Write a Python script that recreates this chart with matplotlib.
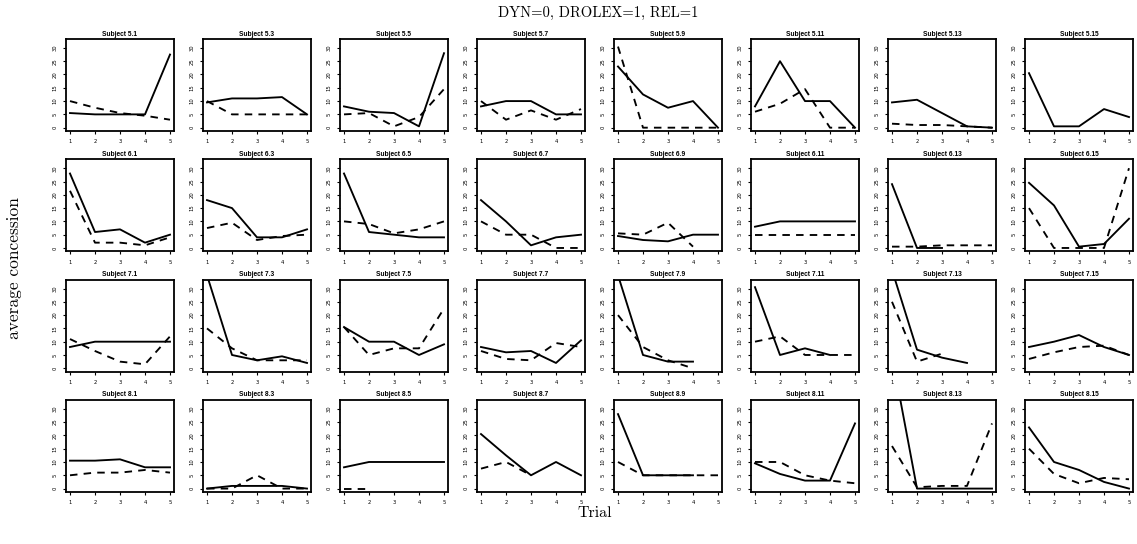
import numpy as np
import matplotlib
matplotlib.use("Agg")
import matplotlib.pyplot as plt

nan = np.nan

# panel names, row by row
subjects = ["5.1", "5.3", "5.5", "5.7", "5.9", "5.11", "5.13", "5.15",
            "6.1", "6.3", "6.5", "6.7", "6.9", "6.11", "6.13", "6.15",
            "7.1", "7.3", "7.5", "7.7", "7.9", "7.11", "7.13", "7.15",
            "8.1", "8.3", "8.5", "8.7", "8.9", "8.11", "8.13", "8.15"]

trials = [1, 2, 3, 4, 5]

# solid line per subject
solid_vals = [
    [5.5, 5, 5, 5, 27.5], [9.5, 11, 11, 11.5, 5], [8, 6, 5.5, 0.5, 28], [8, 10, 10, 5, 5],
    [23, 12.5, 7.5, 10, 0], [8, 25, 10, 10, 0], [9.5, 10.5, 5.5, 0.5, 0], [20.5, 0.5, 0.5, 7, 4],
    [28, 6, 7, 2, 5], [18, 15, 4, 4, 7], [28, 6, 5, 4, 4], [18, 10, 1, 4, 5],
    [4.5, 3, 2.5, 5, 5], [8, 10, 10, 10, 10], [24, 0, 0, nan, nan], [24.5, 16, 0.5, 1.5, 11],
    [8, 10, 10, 10, 10], [35, 5, 3, 4.5, 2], [15.5, 10, 10, 5, 9], [8, 6, 6.5, 2, 10.5],
    [35, 5, 2.5, 2.5, nan], [30.5, 5, 7.5, 5, nan], [37, 7, 4, 2, nan], [8, 10, 12.5, 8, 5],
    [10.5, 10.5, 11, 8, 8], [0, 1, 1, 1, 0], [8, 10, 10, 10, 10], [20.5, 12.5, 5, 10, 5],
    [28, 5, 5, 5, nan], [9.5, 5.5, 3, 3, 24.5], [50, 0, 0, 0, 0], [23, 10, 7, 2.5, 0],
]

# dashed line per subject
dashed_vals = [
    [10, 7.5, 5.5, 4.5, 3], [10, 5, 5, 5, 5], [5, 5.5, 0.5, 4, 14.5], [10, 3, 6.5, 3, 7],
    [30.5, 0, 0, 0, 0], [6, 9, 14.5, 0, 0], [1.5, 1, 1, 0.5, 0], [nan, nan, nan, nan, nan],
    [21.5, 2, 2, 1, 4], [7.5, 9.5, 3, 4.5, 5], [10, 9, 5.5, 7, 10], [10, 5, 5, 0, 0],
    [5.5, 5, 9.5, 0.5, nan], [5, 5, 5, 5, 5], [0.5, 0.5, 1, 1, 1], [15, 0, 0, 0, 30],
    [11, 6.5, 2.5, 1.5, 12], [15, 7.5, 3, 3, 3], [15.5, 5, 7.5, 7.5, 22.5], [6.5, 3.5, 3, 9.5, 8],
    [20, 8, 3, 0, nan], [10, 12, 5, 5, 5], [25, 2.5, 5.5, nan, nan], [3.5, 6, 8, 8.5, 5],
    [5, 6, 6, 7, 6], [0, 0, 5, 0, 0], [0, 0, nan, nan, nan], [7.5, 10, 5, nan, nan],
    [10, 5, 5, 5, 5], [10, 10, 5, 3, 2], [16, 0.5, 1, 1, 24.5], [15, 5.5, 2, 4, 3.5],
]

W, H = 1137, 544
fig = plt.figure(figsize=(W / 100, H / 100), dpi=100)

# panel geometry in pixels
left0, dx, pw = 66, 137, 108
top0, dy, ph = 39, 120.3, 92

for k, name in enumerate(subjects):
    r, c = divmod(k, 8)
    left = left0 + c * dx
    top = top0 + r * dy
    ax = fig.add_axes([left / W, 1 - (top + ph) / H, pw / W, ph / H])
    ax.plot(trials, solid_vals[k], color="black", lw=1.35, solid_joinstyle="round")
    ax.plot(trials, dashed_vals[k], color="black", lw=1.35, dashes=(4, 3.3))
    ax.set_xlim(0.84, 5.16)
    ax.set_ylim(-1.25, 33.35)
    ax.set_xticks(trials)
    ax.set_yticks([0, 5, 10, 15, 20, 25, 30])
    ax.tick_params(labelsize=3.8, length=2.5, width=0.8, pad=3.5, colors="black")
    ax.tick_params(axis="y", labelrotation=90)
    for lab in ax.get_yticklabels():
        lab.set_verticalalignment("center")
    for s in ax.spines.values():
        s.set_linewidth(1.3)
    ax.set_title("Subject " + name, fontsize=4.8, fontweight="bold",
                 family="Liberation Sans", pad=2.5)

fig.text(598 / W, 1 - 13 / H, "DYN=0, DROLEX=1, REL=1", family="cmr10",
         fontsize=10.5, ha="center", va="center")
fig.text(14 / W, 1 - 268 / H, "average concession", family="cmr10",
         fontsize=12.5, ha="center", va="center", rotation=90)
fig.text(595 / W, 1 - 513 / H, "Trial", family="cmr10",
         fontsize=11.5, ha="center", va="center")

fig.savefig("out.png", dpi=100)
